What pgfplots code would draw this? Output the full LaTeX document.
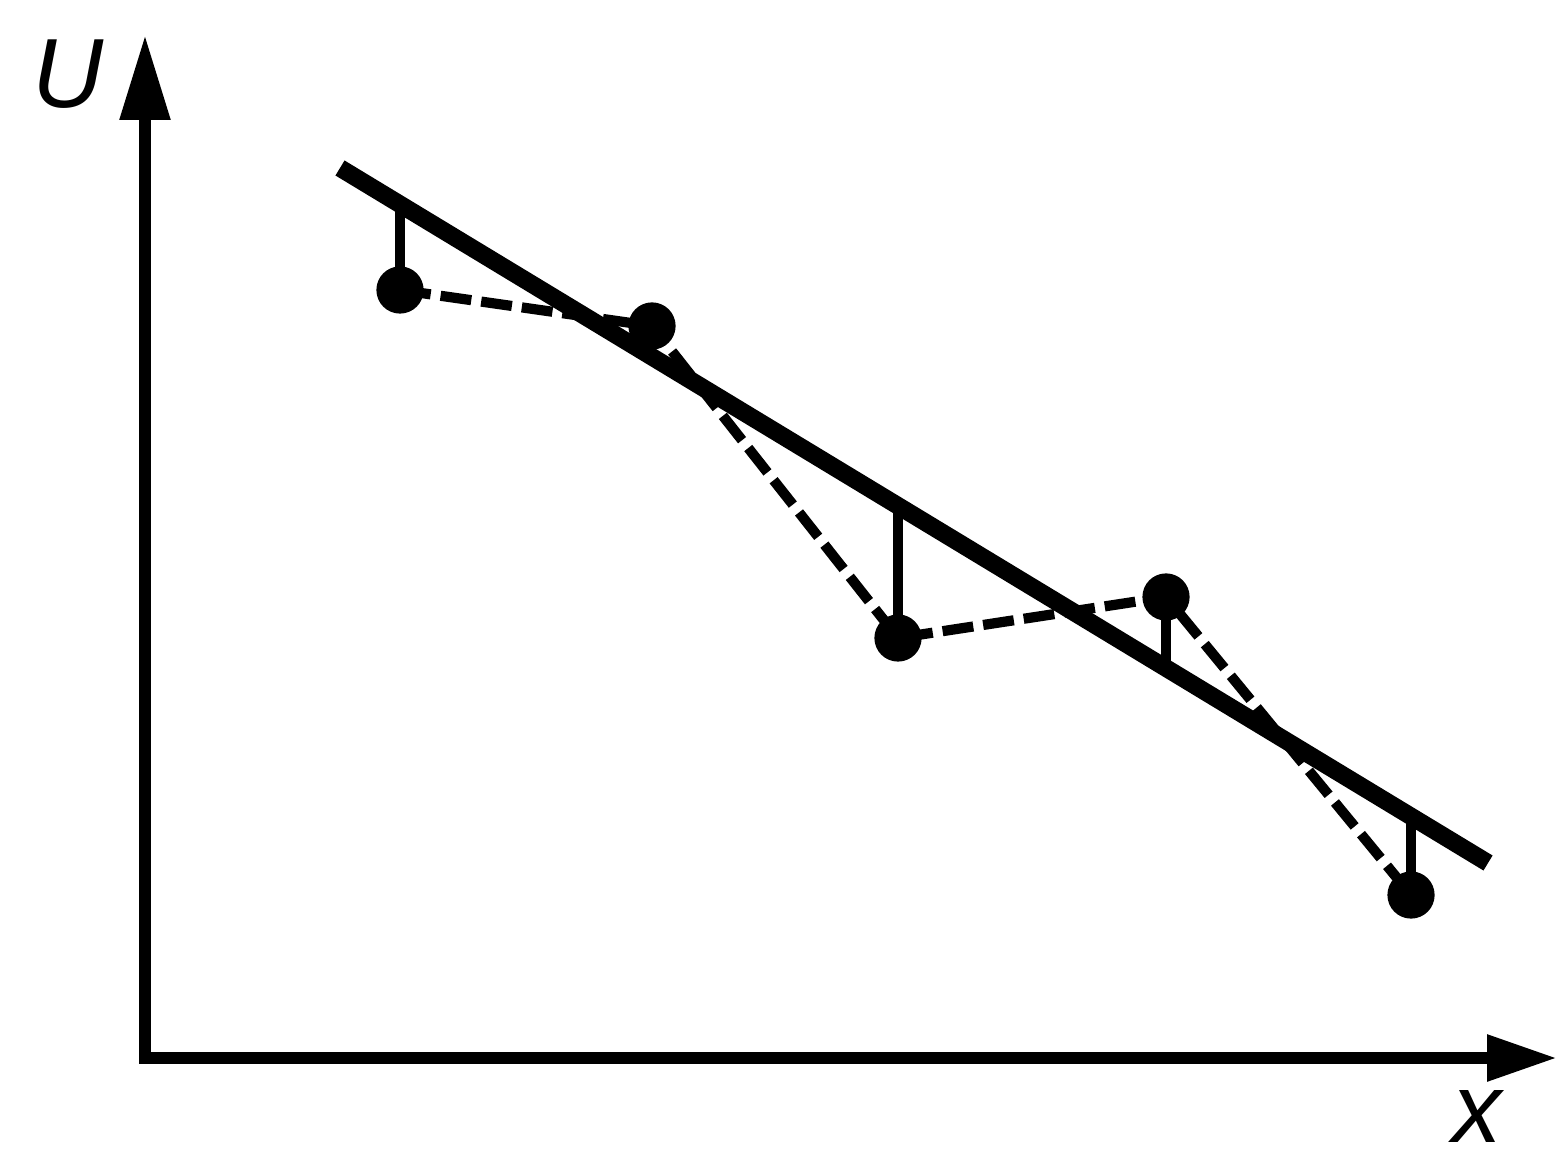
\documentclass[border=0pt]{standalone}
\usepackage{fontspec}
\setmainfont{Liberation Sans}
\usepackage{pgfplots}
\pgfplotsset{compat=1.18}
\usetikzlibrary{arrows.meta}

\begin{document}
\begin{tikzpicture}
\begin{axis}[
  scale only axis,
  width=141.2mm, height=102.3mm,
  xmin=145, xmax=1557,
  ymin=94, ymax=1117,
  axis lines=left,
  ticks=none,
  clip=false,
  x axis line style={line width=3.4pt, line cap=rect, -{Triangle[length=7mm,width=4.4mm]}},
  y axis line style={line width=3.4pt, line cap=rect, -{Triangle[length=8.5mm,width=4.8mm]}},
]
% corners of the whole figure
\coordinate (bl) at (axis cs:0,0);
\coordinate (tr) at (axis cs:1557,1152);

% fitted line
\addplot[black, line width=5pt, line cap=butt]
  coordinates {(340,984) (1488,289)};

% residuals
\addplot[black, line width=2.9pt] coordinates {(400,862) (400,947.7)};
\addplot[black, line width=2.9pt] coordinates {(898,514) (898,646.2)};
\addplot[black, line width=2.9pt] coordinates {(1166,555) (1166,484.0)};
\addplot[black, line width=2.9pt] coordinates {(1411,257) (1411,335.6)};

% data points joined by dashes
\addplot[black, line width=2.9pt, dash pattern=on 3.1mm off 1mm,
  mark=*, mark size=1.85mm, mark options={solid, fill=black}]
  coordinates {(400,862) (652,826) (898,514) (1166,555) (1411,257)};

\node[anchor=base, inner sep=0pt, font=\fontsize{28}{32}\selectfont\itshape]
  at (axis cs:68,1044) {U};
\node[anchor=base, inner sep=0pt, font=\fontsize{28}{32}\selectfont\itshape]
  at (axis cs:1477,10) {x};
\end{axis}
\pgfresetboundingbox
\path[use as bounding box] (bl) rectangle (tr);
\end{tikzpicture}
\end{document}
